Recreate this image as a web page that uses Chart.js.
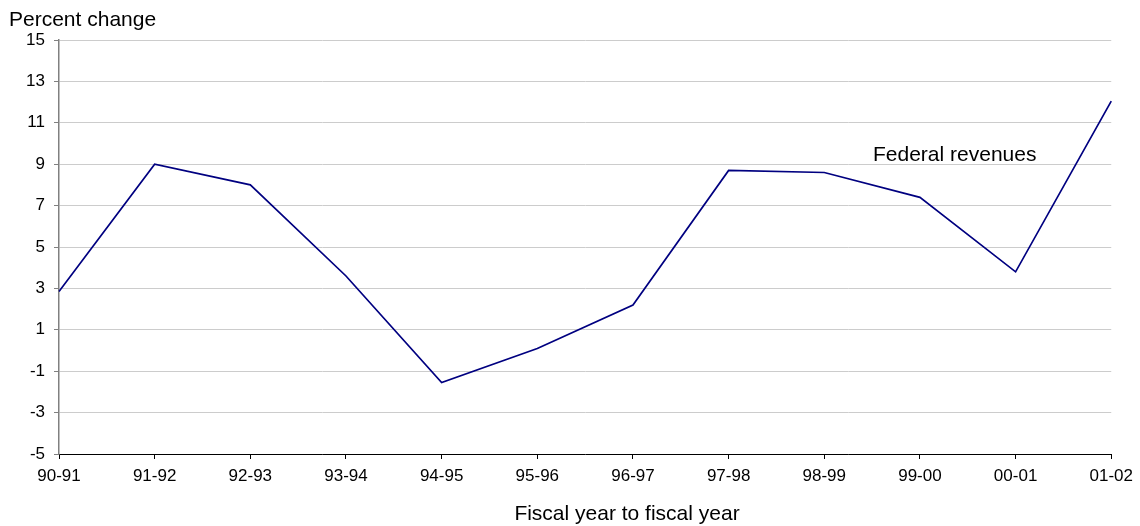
<!DOCTYPE html>
<html>
<head>
<meta charset="utf-8">
<script src="https://cdn.jsdelivr.net/npm/chart.js@4"></script>
<style>
  html, body { margin: 0; padding: 0; background: #fff; }
  #wrap { width: 1140px; height: 526px; position: relative; }
</style>
</head>
<body>
<div id="wrap"><canvas id="line-chart"></canvas></div>
<script>
// fiscal years (x axis)
var years = ['90-91', '91-92', '92-93', '93-94', '94-95', '95-96', '96-97', '97-98', '98-99', '99-00', '00-01', '01-02'];
// percent change in federal revenues
var federalRevenues = [2.85, 9.0, 8.0, 3.6, -1.55, 0.1, 2.2, 8.7, 8.6, 7.4, 3.8, 12.05];
// y axis range
var yMin = -5, yMax = 15, yStep = 2;

var font = "'Liberation Sans', Arial, sans-serif";

var textPlugin = {
  id: 'texts',
  afterDraw: function (chart) {
    var c = chart.ctx;
    c.save();
    c.fillStyle = '#000';
    c.font = '21px ' + font;
    c.textBaseline = 'alphabetic';
    c.textAlign = 'left';
    c.fillText('Percent change', 9, 26);
    c.fillText('Federal revenues', 873, 161);
    c.textAlign = 'center';
    c.fillText('Fiscal year to fiscal year', 627, 520);
    c.restore();
  }
};

var ctx = document.getElementById('line-chart').getContext('2d');
var chart = new Chart(ctx, {
  type: 'line',
  data: {
    labels: years,
    datasets: [{
      label: 'Federal revenues',
      data: federalRevenues,
      borderColor: '#000080',
      borderWidth: 1.7,
      pointRadius: 0,
      tension: 0,
      fill: false
    }]
  },
  options: {
    responsive: true,
    maintainAspectRatio: false,
    animation: false,
    layout: { padding: { top: 40, right: 28, left: 0, bottom: 0 } },
    plugins: {
      legend: { display: false },
      tooltip: { enabled: false }
    },
    scales: {
      x: {
        offset: false,
        afterFit: function (s) { s.height = 72; },
        grid: {
          drawOnChartArea: false,
          drawTicks: true,
          tickLength: 5,
          tickColor: '#000'
        },
        border: { color: '#000', width: 1 },
        ticks: {
          color: '#000',
          font: { family: font, size: 17 },
          padding: 7,
          maxRotation: 0,
          autoSkip: false
        }
      },
      y: {
        min: yMin,
        max: yMax,
        afterFit: function (s) { s.width = 59; },
        afterBuildTicks: function (s) {
          var t = [];
          for (var v = yMin; v <= yMax; v += yStep) t.push({ value: v });
          s.ticks = t;
        },
        grid: {
          color: '#cccccc',
          lineWidth: 1,
          tickLength: 5,
          tickColor: '#808080'
        },
        border: { color: '#808080', width: 1.5 },
        ticks: {
          color: '#000',
          font: { family: font, size: 17 },
          padding: 9
        }
      }
    }
  },
  plugins: [textPlugin]
});
</script>
</body>
</html>
